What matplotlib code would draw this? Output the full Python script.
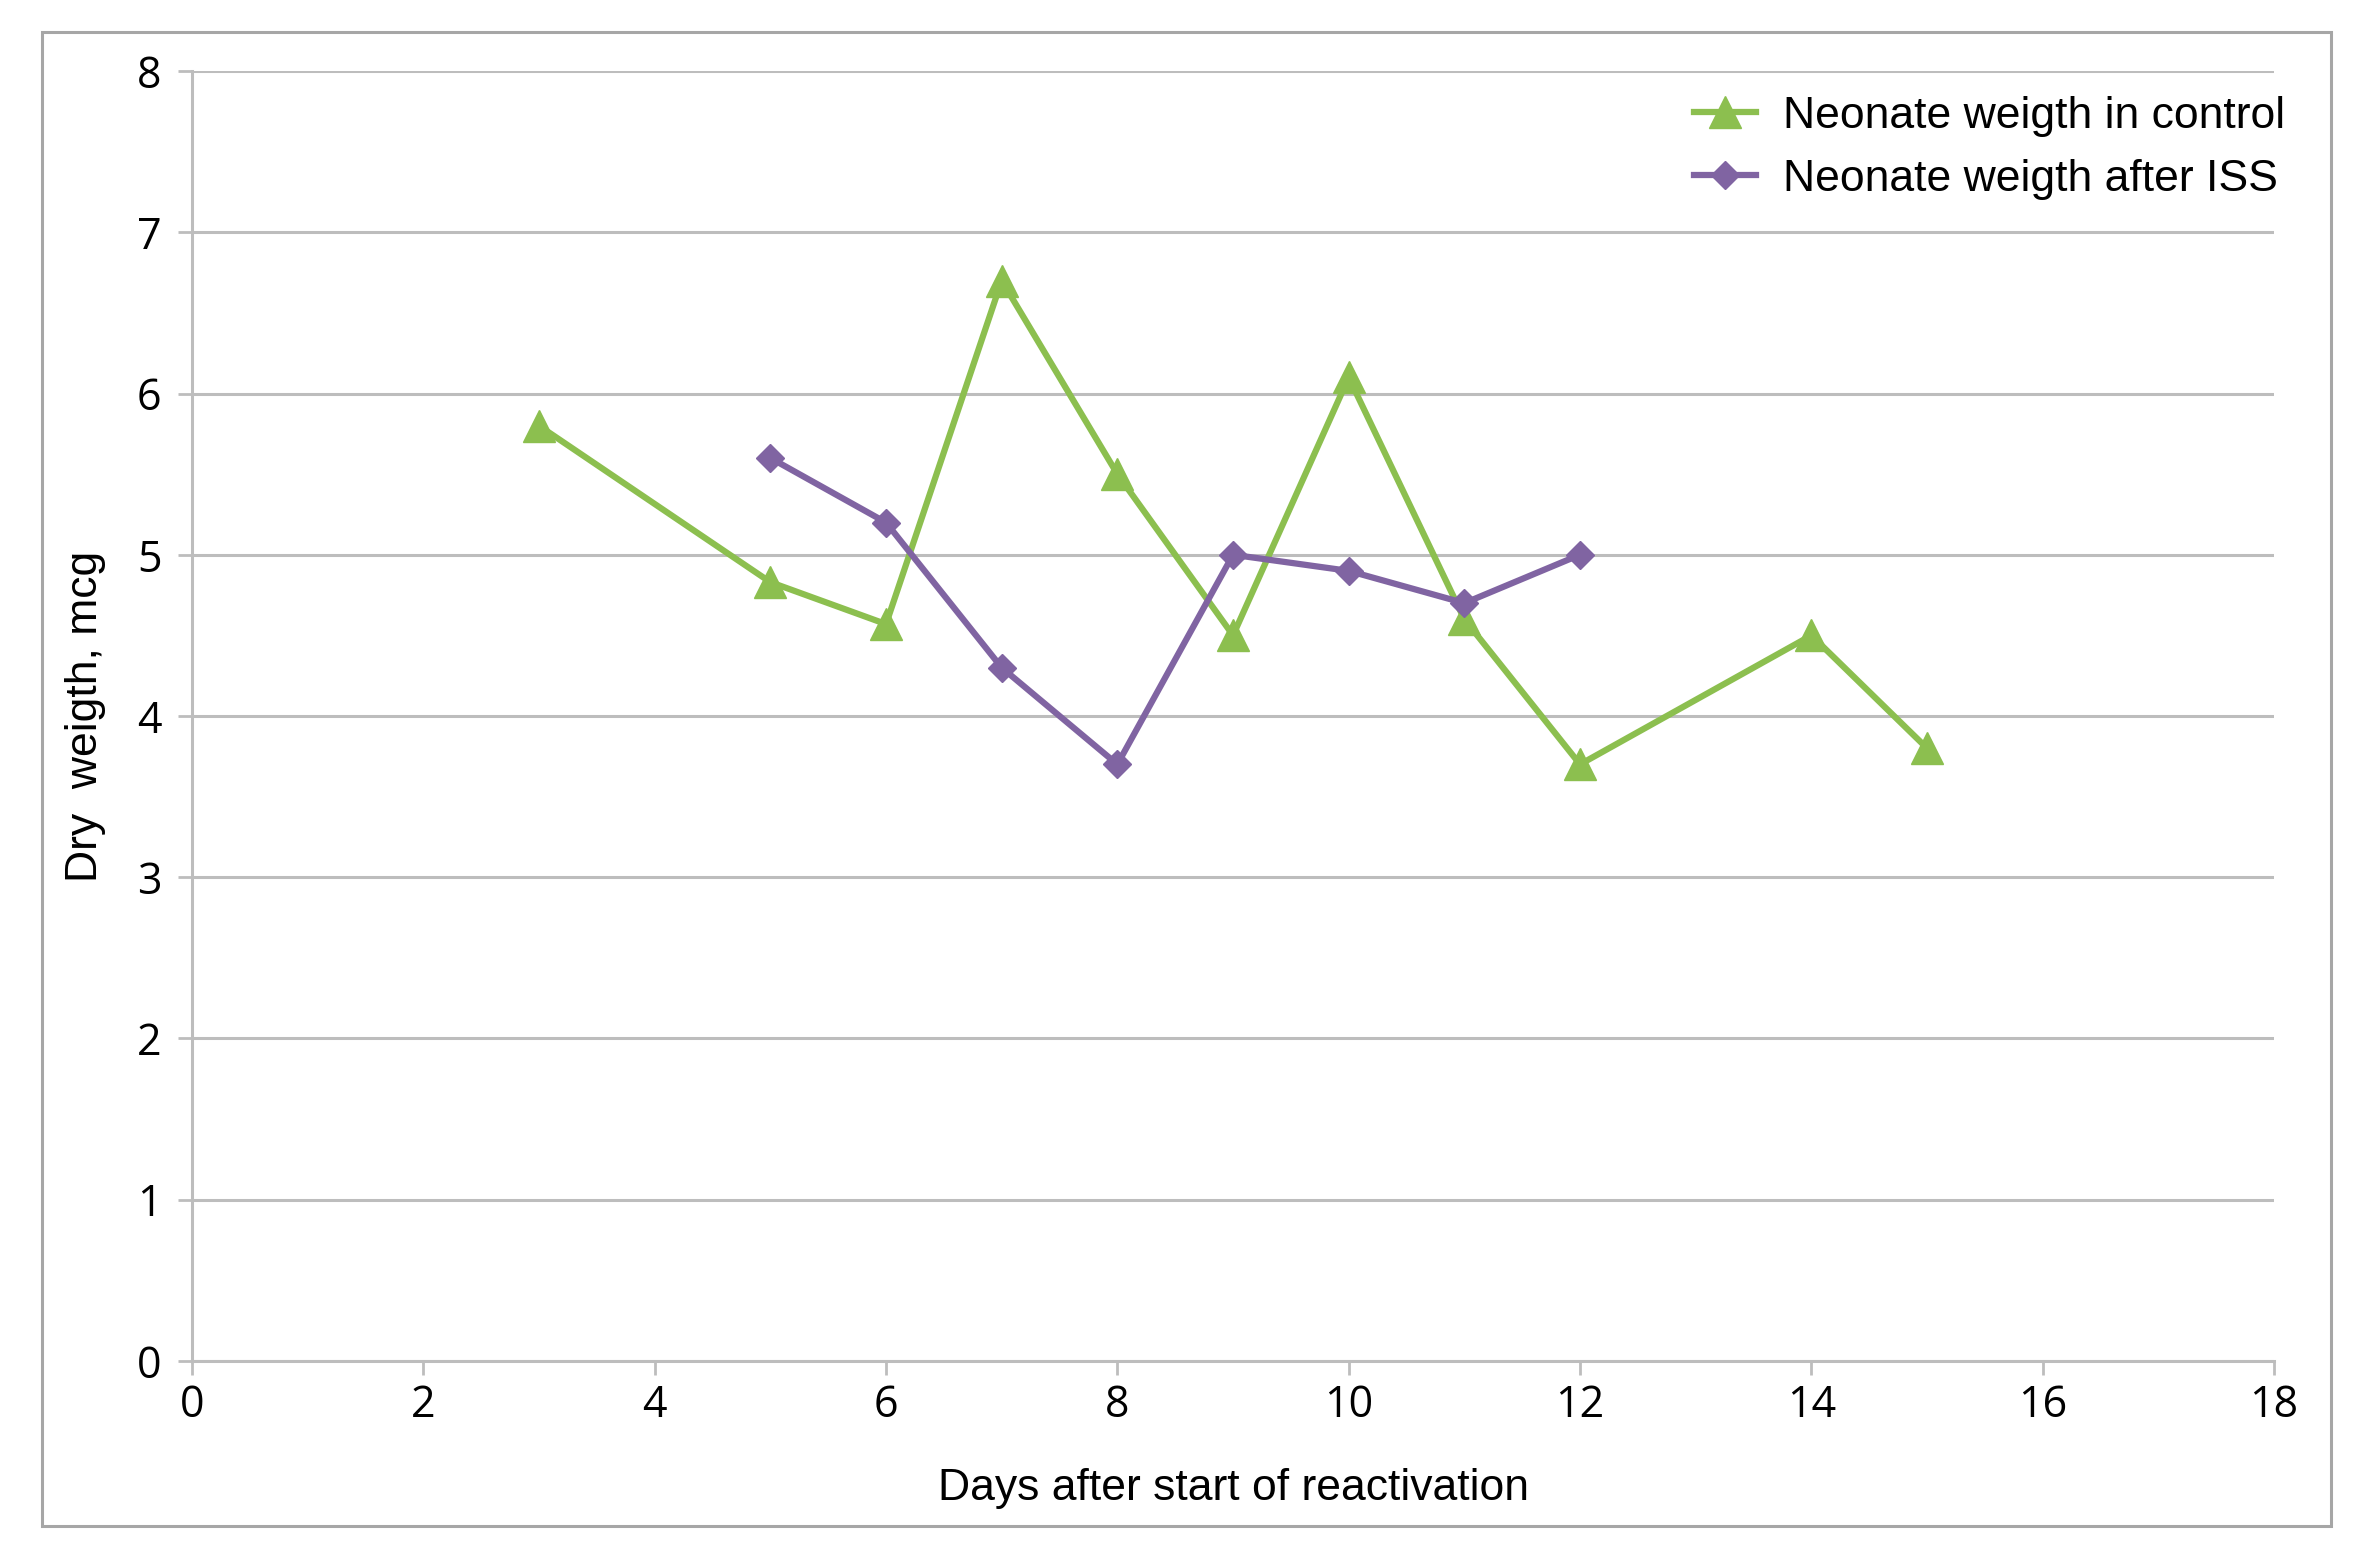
import matplotlib.pyplot as plt
from matplotlib.patches import Rectangle

# Data
days_control = [3, 5, 6, 7, 8, 9, 10, 11, 12, 14, 15]
weight_control = [5.8, 4.83, 4.57, 6.7, 5.5, 4.5, 6.1, 4.6, 3.7, 4.5, 3.8]
days_iss = [5, 6, 7, 8, 9, 10, 11, 12]
weight_iss = [5.6, 5.2, 4.3, 3.7, 5.0, 4.9, 4.7, 5.0]

x_ticks = list(range(0, 19, 2))
y_ticks = list(range(0, 9))

green = '#8cbf4f'
purple = '#8064a2'
grid_col = '#bdbdbd'

plt.rcParams['font.family'] = ['Liberation Sans', 'DejaVu Sans']

fig = plt.figure(figsize=(23.79, 15.64), dpi=100)
ax = fig.add_axes([0.0807, 0.1298, 0.8752, 0.8248])

#Outer chart frame
fig.patches.append(Rectangle((42 / 2379, 1 - 1526 / 1564), (2331 - 42) / 2379, (1526 - 32) / 1564,
                             transform=fig.transFigure, fill=False, edgecolor='#a6a6a6', linewidth=2.2))

ax.plot(days_control, weight_control, color=green, linewidth=4.5, marker='^', markersize=23,
        label='Neonate weigth in control', zorder=3)
ax.plot(days_iss, weight_iss, color=purple, linewidth=4.5, marker='D', markersize=14,
        label='Neonate weigth after ISS', zorder=4)

ax.set_xlim(0, 18)
ax.set_ylim(0, 8)
ax.set_xticks(x_ticks)
ax.set_yticks(y_ticks)
ax.yaxis.grid(True, color=grid_col, linewidth=2.2, zorder=0)
ax.set_axisbelow(True)

for side in ['top', 'right']:
    ax.spines[side].set_visible(False)
for side in ['left', 'bottom']:
    ax.spines[side].set_color(grid_col)
    ax.spines[side].set_linewidth(2.2)

ax.tick_params(axis='both', colors=grid_col, labelcolor='black', labelsize=31, length=10, width=2)
for lab in ax.get_xticklabels() + ax.get_yticklabels():
    lab.set_family(['Open Sans', 'DejaVu Sans'])
ax.tick_params(axis='x', pad=6)
ax.tick_params(axis='y', pad=12)

ax.set_xlabel('Days after start of reactivation', size=32, labelpad=29)
ax.set_ylabel('Dry  weigth, mcg', size=32, labelpad=22)

ax.legend(loc='upper right', bbox_to_anchor=(2303 / 2379, 1 - 78 / 1564), bbox_transform=fig.transFigure,
          frameon=False, fontsize=32, handlelength=1.4, labelspacing=0.5, handletextpad=0.6,
          borderaxespad=0)

fig.savefig('out.png', dpi=100)
